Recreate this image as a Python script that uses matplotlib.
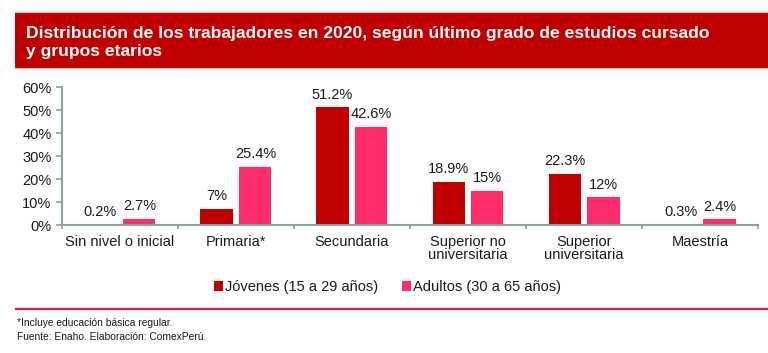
import numpy as np
import matplotlib
matplotlib.use('Agg')
import matplotlib.pyplot as plt
from matplotlib.patches import Rectangle, Patch
from matplotlib.lines import Line2D

plt.rcParams['font.family'] = ['Liberation Sans', 'DejaVu Sans']

# datos
categorias = ['Sin nivel o inicial', 'Primaria*', 'Secundaria',
              'Superior no\nuniversitaria', 'Superior\nuniversitaria', 'Maestría']
jovenes = [0.2, 7.0, 51.2, 18.9, 22.3, 0.3]
adultos = [2.7, 25.4, 42.6, 15.0, 12.0, 2.4]
etiq_jovenes = ['0.2%', '7%', '51.2%', '18.9%', '22.3%', '0.3%']
etiq_adultos = ['2.7%', '25.4%', '42.6%', '15%', '12%', '2.4%']
series = ['Jóvenes (15 a 29 años)', 'Adultos (30 a 65 años)']
yticks = [0, 10, 20, 30, 40, 50, 60]

rojo = '#C00000'
rosa = '#FF2C6C'
gris = '#8CA0A0'
texto = '#1a1a1a'

fig = plt.figure(figsize=(7.68, 3.53), dpi=100)

# banda del titulo
fig.patches.append(Rectangle((0.0195, 0.807), 1.0, 0.1586, transform=fig.transFigure,
                             facecolor=rojo, edgecolor='none', zorder=0))
for yb in (0.807, 0.9656):
    fig.lines.append(Line2D([0.0195, 1.0], [yb, yb], transform=fig.transFigure,
                            color='#E6B0B0', lw=0.8))
fig.text(0.0339, 0.9065, 'Distribución de los trabajadores en 2020, según último grado de estudios cursado',
         color='white', fontsize=12.6, fontweight='bold', va='center', ha='left')
fig.text(0.0339, 0.8555, 'y grupos etarios',
         color='white', fontsize=12.6, fontweight='bold', va='center', ha='left')

ax = fig.add_axes([0.0807, 0.3626, 0.9063, 0.3909])
x = np.arange(len(categorias))
w = 0.276
off = 0.168
b1 = ax.bar(x - off, jovenes, w, color=rojo)
b2 = ax.bar(x + off, adultos, w, color=rosa)

for bars, labs in ((b1, etiq_jovenes), (b2, etiq_adultos)):
    for b, lab in zip(bars, labs):
        ax.annotate(lab, (b.get_x() + b.get_width() / 2, b.get_height()),
                    xytext=(0, 4), textcoords='offset points', ha='center', va='bottom',
                    fontsize=10.5, color=texto)

ax.set_xlim(-0.5, len(categorias) - 0.5)
ax.set_ylim(0, 60)
ax.set_yticks(yticks)
ax.set_yticklabels([f'{v}%' for v in yticks])
ax.set_xticks(np.arange(len(categorias) + 1) - 0.5)
ax.set_xticklabels([])
ax.set_xticks(x, minor=True)
ax.set_xticklabels(categorias, minor=True, linespacing=0.95)

for s in ('top', 'right'):
    ax.spines[s].set_visible(False)
for s in ('left', 'bottom'):
    ax.spines[s].set_color(gris)
    ax.spines[s].set_linewidth(1.5)
ax.tick_params(axis='y', colors=gris, labelcolor=texto, labelsize=10.5, length=4, width=1.2, pad=3.5)
ax.tick_params(axis='x', which='major', colors=gris, length=3, width=1.2)
ax.tick_params(axis='x', which='minor', length=0, labelsize=10.5, labelcolor=texto, pad=7)

handles = [Patch(facecolor=rojo), Patch(facecolor=rosa)]
fig.legend(handles, series, loc='center', bbox_to_anchor=(0.5046, 0.187), ncol=2,
           frameon=False, fontsize=10.5, handlelength=0.62, handleheight=0.62,
           handletextpad=0.15, columnspacing=1.65, labelcolor=texto)

fig.lines.append(Line2D([0.0208, 1.0], [0.1246, 0.1246], transform=fig.transFigure,
                        color='#E3173E', lw=1.6))
fig.text(0.022, 0.085, '*Incluye educación básica regular.', fontsize=7.4, color=texto, va='center')
fig.text(0.022, 0.046, 'Fuente: Enaho. Elaboración: ComexPerú.', fontsize=7.4, color=texto, va='center')

fig.savefig('out.png', dpi=100)
